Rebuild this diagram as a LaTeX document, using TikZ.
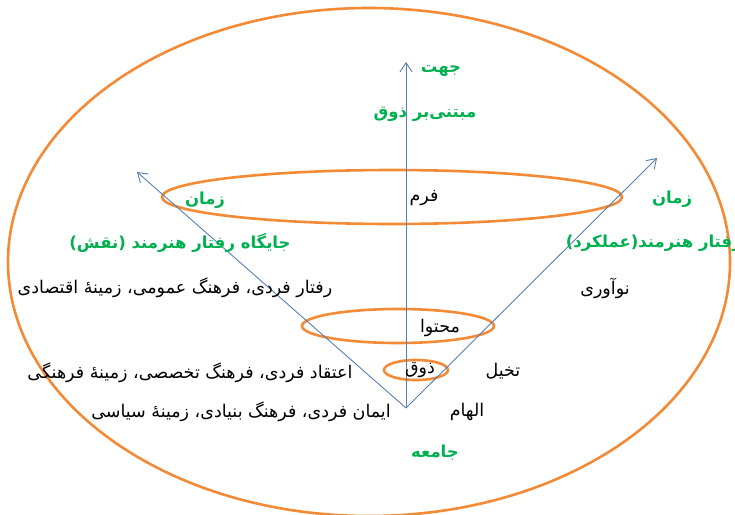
\documentclass[tikz,border=0pt]{standalone}
\usepackage{fontspec}
\usetikzlibrary{arrows.meta}
\TeXXeTstate=1
\newfontfamily\arabicfont[Script=Arabic]{DejaVu Sans}
\definecolor{ogold}{RGB}{242,138,54}
\definecolor{agreen}{RGB}{0,176,80}
\definecolor{ablue}{RGB}{88,125,185}
\tikzset{
  ring/.style={draw=ogold,line width=2.6pt},
  axis/.style={draw=ablue,line width=0.9pt,-{Straight Barb[length=9pt,width=12pt]}},
  gtxt/.style={text=agreen,font=\arabicfont\bfseries\fontsize{16.5}{19}\selectfont,inner sep=1pt},
  btxt/.style={text=black,font=\arabicfont\fontsize{17.5}{20}\selectfont,inner sep=1pt},
}
\newcommand{\rtl}[1]{\beginR #1\endR}
\begin{document}
\begin{tikzpicture}[x=1pt,y=-1pt]
\useasboundingbox (0,0) rectangle (735,514);
% rings
\draw[ring] (369,262) ellipse [x radius=361,y radius=254];
\draw[ring] (392,197) ellipse [x radius=230,y radius=27];
\draw[ring] (398,326) ellipse [x radius=96,y radius=17];
\draw[ring] (416,370) ellipse [x radius=32,y radius=10];
% axes
\coordinate (o) at (406,408);
\coordinate (up) at (406,62);
\coordinate (lt) at (137,172);
\coordinate (rt) at (657,158);
\draw[axis] (o) -- (up);
\draw[axis] (o) -- (lt);
\draw[axis] (o) -- (rt);
% green labels
\node[gtxt] (jahat) at (441,71) {\rtl{جهت}};
\node[gtxt] (mabtani) at (425,114) {\rtl{مبتنی‌بر ذوق}};
\node[gtxt] (zamanl) at (205,200) {\rtl{زمان}};
\node[gtxt] (jaygah) at (180,243) {\rtl{جایگاه رفتار هنرمند (نقش)}};
\node[gtxt] (zamanr) at (672,199) {\rtl{زمان}};
\node[gtxt,anchor=east] (amalkard) at (743,243) {\rtl{رفتار هنرمند(عملکرد)}};
\node[gtxt] (jameeh) at (435,453) {\rtl{جامعه}};
% black labels
\node[btxt] (farm) at (424,198) {\rtl{فرم}};
\node[btxt] (mohtava) at (440,328) {\rtl{محتوا}};
\node[btxt] (zogh) at (420,370) {\rtl{ذوق}};
\node[btxt] (nowavari) at (605,288) {\rtl{نوآوری}};
\node[btxt] (takhayol) at (503,371) {\rtl{تخیل}};
\node[btxt] (elham) at (467,412) {\rtl{الهام}};
\node[btxt] (raftar) at (175,288) {\rtl{رفتار فردی، فرهنگ عمومی، زمینهٔ اقتصادی}};
\node[btxt] (eteghad) at (190,373) {\rtl{اعتقاد فردی، فرهنگ تخصصی، زمینهٔ فرهنگی}};
\node[btxt] (iman) at (241,412) {\rtl{ایمان فردی، فرهنگ بنیادی، زمینهٔ سیاسی}};
\end{tikzpicture}
\end{document}
